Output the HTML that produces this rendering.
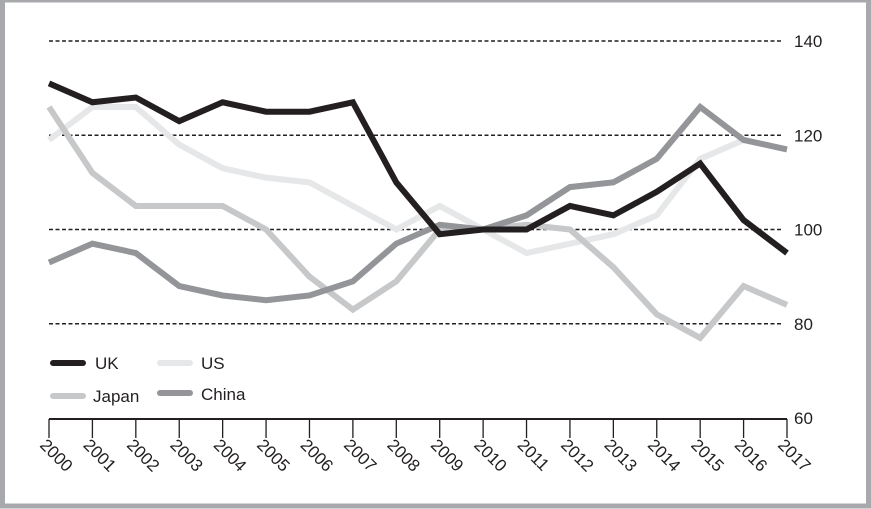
<!DOCTYPE html>
<html><head><meta charset="utf-8"><style>
body{margin:0;background:#fff}
svg{display:block;font-family:"Liberation Sans",sans-serif}
</style></head><body>
<svg width="871" height="509">
<rect x="2.5" y="0" width="866" height="506" fill="#fff" stroke="#a7a9ac" stroke-width="5"/>
<g id="grid"></g><g id="lines"></g><g id="axis"></g>
<g font-size="17" fill="#231f20">
<line x1="53" y1="363" x2="83" y2="363" stroke="#231f20" stroke-width="6" stroke-linecap="round"/>
<text x="95" y="369">UK</text>
<line x1="160" y1="363" x2="190" y2="363" stroke="#e6e7e8" stroke-width="6" stroke-linecap="round"/>
<text x="201" y="369">US</text>
<line x1="53" y1="396" x2="83" y2="396" stroke="#c7c8ca" stroke-width="6" stroke-linecap="round"/>
<text x="93" y="402">Japan</text>
<line x1="160" y1="393" x2="190" y2="393" stroke="#939598" stroke-width="6" stroke-linecap="round"/>
<text x="201" y="400">China</text>
</g>
</svg>
<script>
const years=[2000,2001,2002,2003,2004,2005,2006,2007,2008,2009,2010,2011,2012,2013,2014,2015,2016,2017];
const yTicks=[60,80,100,120,140];
const uk=[131,127,128,123,127,125,125,127,110,99,100,100,105,103,108,114,102,95];
const us=[119,126,126,118,113,111,110,105,100,105,100,95,97,99,103,115,119,117];
const japan=[126,112,105,105,105,100,90,83,89,100,100,101,100,92,82,77,88,84];
const china=[93,97,95,88,86,85,86,89,97,101,100,103,109,110,115,126,119,117];
const NS='http://www.w3.org/2000/svg';
const x=i=>49+i*(787-49)/(years.length-1);
const y=v=>418-(v-60)*(418-41)/80;
function mk(t,a,p){const e=document.createElementNS(NS,t);for(const k in a)e.setAttribute(k,a[k]);p.appendChild(e);return e;}
const grid=document.getElementById('grid'),axis=document.getElementById('axis'),lines=document.getElementById('lines');
yTicks.forEach(v=>{
 if(v>60){const l=mk('line',{x1:49,x2:783,y1:y(v),y2:y(v),stroke:'#231f20','stroke-width':1.5,'stroke-dasharray':'4,2.5'},grid);
 
 }
 const t=mk('text',{x:794,y:y(v)+6,'font-size':17,fill:'#231f20'},grid);t.textContent=v;
 
 
});
const base=mk('line',{x1:49,x2:787,y1:419,y2:419,stroke:'#231f20','stroke-width':2},axis);


years.forEach((yr,i)=>{
 const tk=mk('line',{x1:x(i),x2:x(i),y1:419,y2:438,stroke:'#231f20','stroke-width':1.3},axis);
 
 
 const t=mk('text',{x:x(i)-10,y:446,'font-size':17,fill:'#231f20',transform:`rotate(45 ${x(i)-10} 446)`},axis);t.textContent=yr;
 
 
});
[[us,'#e6e7e8','us'],[japan,'#c7c8ca','japan'],[china,'#939598','china'],[uk,'#231f20','uk']].forEach(([d,c,n])=>{
 const p=mk('polyline',{points:d.map((v,i)=>x(i)+','+y(v)).join(' '),fill:'none',stroke:c,'stroke-width':6,'stroke-linejoin':'miter'},lines);
 
 
});
</script>
</body></html>
